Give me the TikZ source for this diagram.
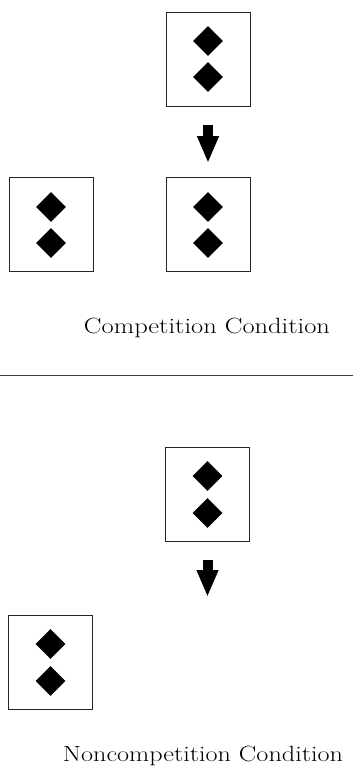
\documentclass[tikz,border=0pt]{standalone}
\usepackage{graphicx}
\usetikzlibrary{shapes.geometric,arrows.meta}
\tikzset{
  panel/.style={draw=black!85, line width=0.8pt, minimum width=84pt, minimum height=94pt, inner sep=0pt},
  gem/.style={diamond, fill=black, inner sep=0pt, minimum width=30pt, minimum height=30pt},
  blockarrow/.style={line width=10pt, -{Triangle[width=20pt,length=27pt]}, shorten <=19pt},
  caption/.style={anchor=base, inner sep=0pt},
  rule/.style={draw=black!75, line width=0.8pt}
}
\newcommand{\captext}[2]{\resizebox{#1}{\height}{\fontsize{22}{26}\selectfont #2}}
\begin{document}
\begin{tikzpicture}[x=1pt,y=-1pt]
\useasboundingbox (0,0) rectangle (353,768);
% Competition condition
\node[panel] (ctop) at (208,59) {};
\node[gem] (ctopa) at (208,41) {};
\node[gem] (ctopb) at (208,77) {};
\node[panel] (cleft) at (51,224.5) {};
\node[gem] (clefta) at (51,207) {};
\node[gem] (cleftb) at (51,243) {};
\node[panel] (cright) at (208,224.5) {};
\node[gem] (crighta) at (208,207) {};
\node[gem] (crightb) at (208,243) {};
\draw[blockarrow, shorten >=14pt] (ctop.south) -- (cright.north);
\node[caption] (ccap) at (207,333) {\captext{246pt}{Competition Condition}};
% separator
\coordinate (hl1) at (0,375);
\coordinate (hl2) at (353,375);
\draw[rule] (hl1) -- (hl2);
% Noncompetition condition
\node[panel] (ntop) at (207.5,494) {};
\node[gem] (ntopa) at (207.5,476) {};
\node[gem] (ntopb) at (207.5,513) {};
\coordinate (nend) at (207.5,597);
\draw[blockarrow] (ntop.south) -- (nend);
\node[panel] (nleft) at (50.5,662) {};
\node[gem] (nlefta) at (50.5,644) {};
\node[gem] (nleftb) at (50.5,681) {};
\node[caption] (ncap) at (203,761) {\captext{280pt}{Noncompetition Condition}};
\end{tikzpicture}
\end{document}
